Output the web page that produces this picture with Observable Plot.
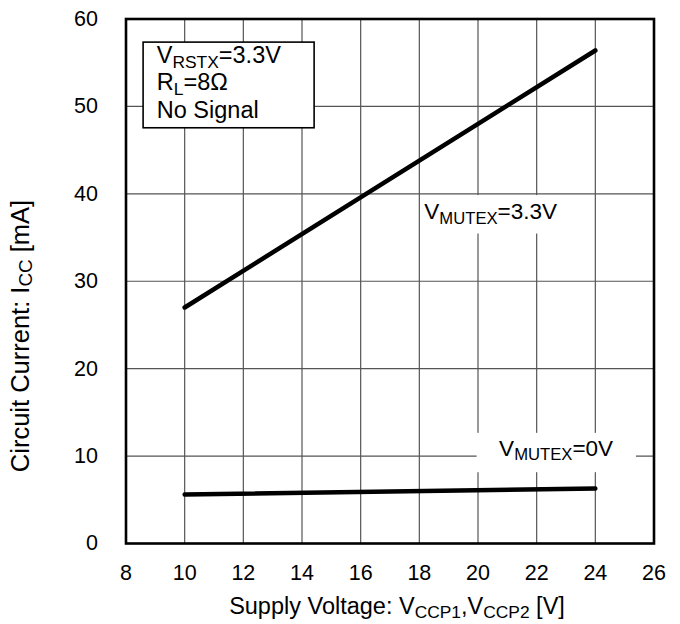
<!DOCTYPE html>
<html><head><meta charset="utf-8">
<script src="https://cdn.jsdelivr.net/npm/d3@7"></script>
<script src="https://cdn.jsdelivr.net/npm/@observablehq/plot@0.6"></script>
<style>
body{margin:0;background:#fff}
svg{font-family:"Liberation Sans",Arial,sans-serif}
</style>
</head><body><div id="chart"></div>
<script>
// ---- data ----
const xTicks = [8, 10, 12, 14, 16, 18, 20, 22, 24, 26];
const yTicks = [0, 10, 20, 30, 40, 50, 60];
const supplyV = [10, 24];
const iccMute33 = [27.0, 56.4];
const iccMute0 = [5.6, 6.3];
const seriesLabels = ["V_{MUTEX}=3.3V", "V_{MUTEX}=0V"];
const legendLines = ["V_{RSTX}=3.3V", "R_{L}=8Ω", "No Signal"];
const xLabel = "Supply Voltage: V_{CCP1},V_{CCP2} [V]";
const yLabel = "Circuit Current: I_{CC} [mA]";

// ---- build ----
const lines = [
  ...supplyV.map((v, i) => ({x: v, y: iccMute33[i], s: seriesLabels[0]})),
  ...supplyV.map((v, i) => ({x: v, y: iccMute0[i], s: seriesLabels[1]}))
];
// annotation anchors (data coordinates)
const seriesAnno = [
  {s: seriesLabels[0], x: 18.17, y: 37.9, bx1: 18.1, bx2: 23.5, by1: 35.4, by2: 39.8},
  {s: seriesLabels[1], x: 20.72, y: 10.87, bx1: 19.97, bx2: 25.4, by1: 8.1, by2: 12.6}
];
const legendAnno = legendLines.map((t, i) => ({t, x: 9.05, y: [55.8, 52.7, 49.5][i]}));

const FS = 21.5;
const plot = Plot.plot({
  width: 680, height: 624,
  marginLeft: 125.5, marginRight: 26.5, marginTop: 18.5, marginBottom: 81,
  style: {fontFamily: '"Liberation Sans", Arial, sans-serif', background: "#fff", color: "#000"},
  x: {domain: [8, 26]},
  y: {domain: [0, 60]},
  marks: [
    Plot.gridX(xTicks, {stroke: "#555", strokeOpacity: 1, strokeWidth: 1.2}),
    Plot.gridY(yTicks, {stroke: "#555", strokeOpacity: 1, strokeWidth: 1.2}),
    Plot.rect(seriesAnno, {x1: "bx1", x2: "bx2", y1: "by1", y2: "by2", fill: "white"}),
    Plot.text(seriesAnno, {x: "x", y: "y", text: "s", textAnchor: "start", fontSize: 22.5, fill: "black"}),
    Plot.line(lines, {x: "x", y: "y", z: "s", stroke: "black", strokeWidth: 4.5, strokeLinecap: "round"}),
    Plot.rect([{x1: 8.6, x2: 14.43, y1: 47.5, y2: 57.3}], {x1: "x1", x2: "x2", y1: "y1", y2: "y2", fill: "white", stroke: "black", strokeWidth: 1.6}),
    Plot.text(legendAnno, {x: "x", y: "y", text: "t", textAnchor: "start", fontSize: 23.5, fill: "black"}),
    Plot.frame({stroke: "black", strokeWidth: 2.6}),
    Plot.axisX(xTicks, {tickSize: 0, tickPadding: 21, fontSize: FS, label: null}),
    Plot.axisY(yTicks, {tickSize: 0, tickPadding: 28, fontSize: FS, label: null})
  ]
});

function richText(el, str, size) {
  const sel = d3.select(el);
  sel.text(null);
  const parts = str.split(/(_\{[^}]*\})/);
  let shifted = false;
  const sh = size * 0.2;
  for (const p of parts) {
    if (!p) continue;
    if (p.startsWith("_{")) {
      sel.append("tspan").attr("font-size", size * 0.74).attr("dy", sh).text(p.slice(2, -1));
      shifted = true;
    } else {
      const t = sel.append("tspan").text(p);
      if (shifted) { t.attr("dy", -sh); shifted = false; }
    }
  }
}

const svg = d3.select(plot);
svg.selectAll("text").each(function() {
  const s = this.textContent;
  if (s.includes("_{")) {
    const fs = parseFloat(d3.select(this.closest("[font-size]")).attr("font-size")) || FS;
    richText(this, s, fs);
  }
});

// axis titles
const xt = svg.append("text").attr("x", 397).attr("y", 608).attr("text-anchor", "middle")
  .attr("dominant-baseline", "middle").attr("font-size", 23.5).attr("fill", "black");
richText(xt.node(), xLabel, 23.5);
const yt = svg.append("text").attr("transform", "translate(22,336) rotate(-90)").attr("text-anchor", "middle")
  .attr("dominant-baseline", "middle").attr("font-size", 25.5).attr("fill", "black");
richText(yt.node(), yLabel, 25.5);

document.getElementById("chart").appendChild(plot);
</script>
</body></html>
